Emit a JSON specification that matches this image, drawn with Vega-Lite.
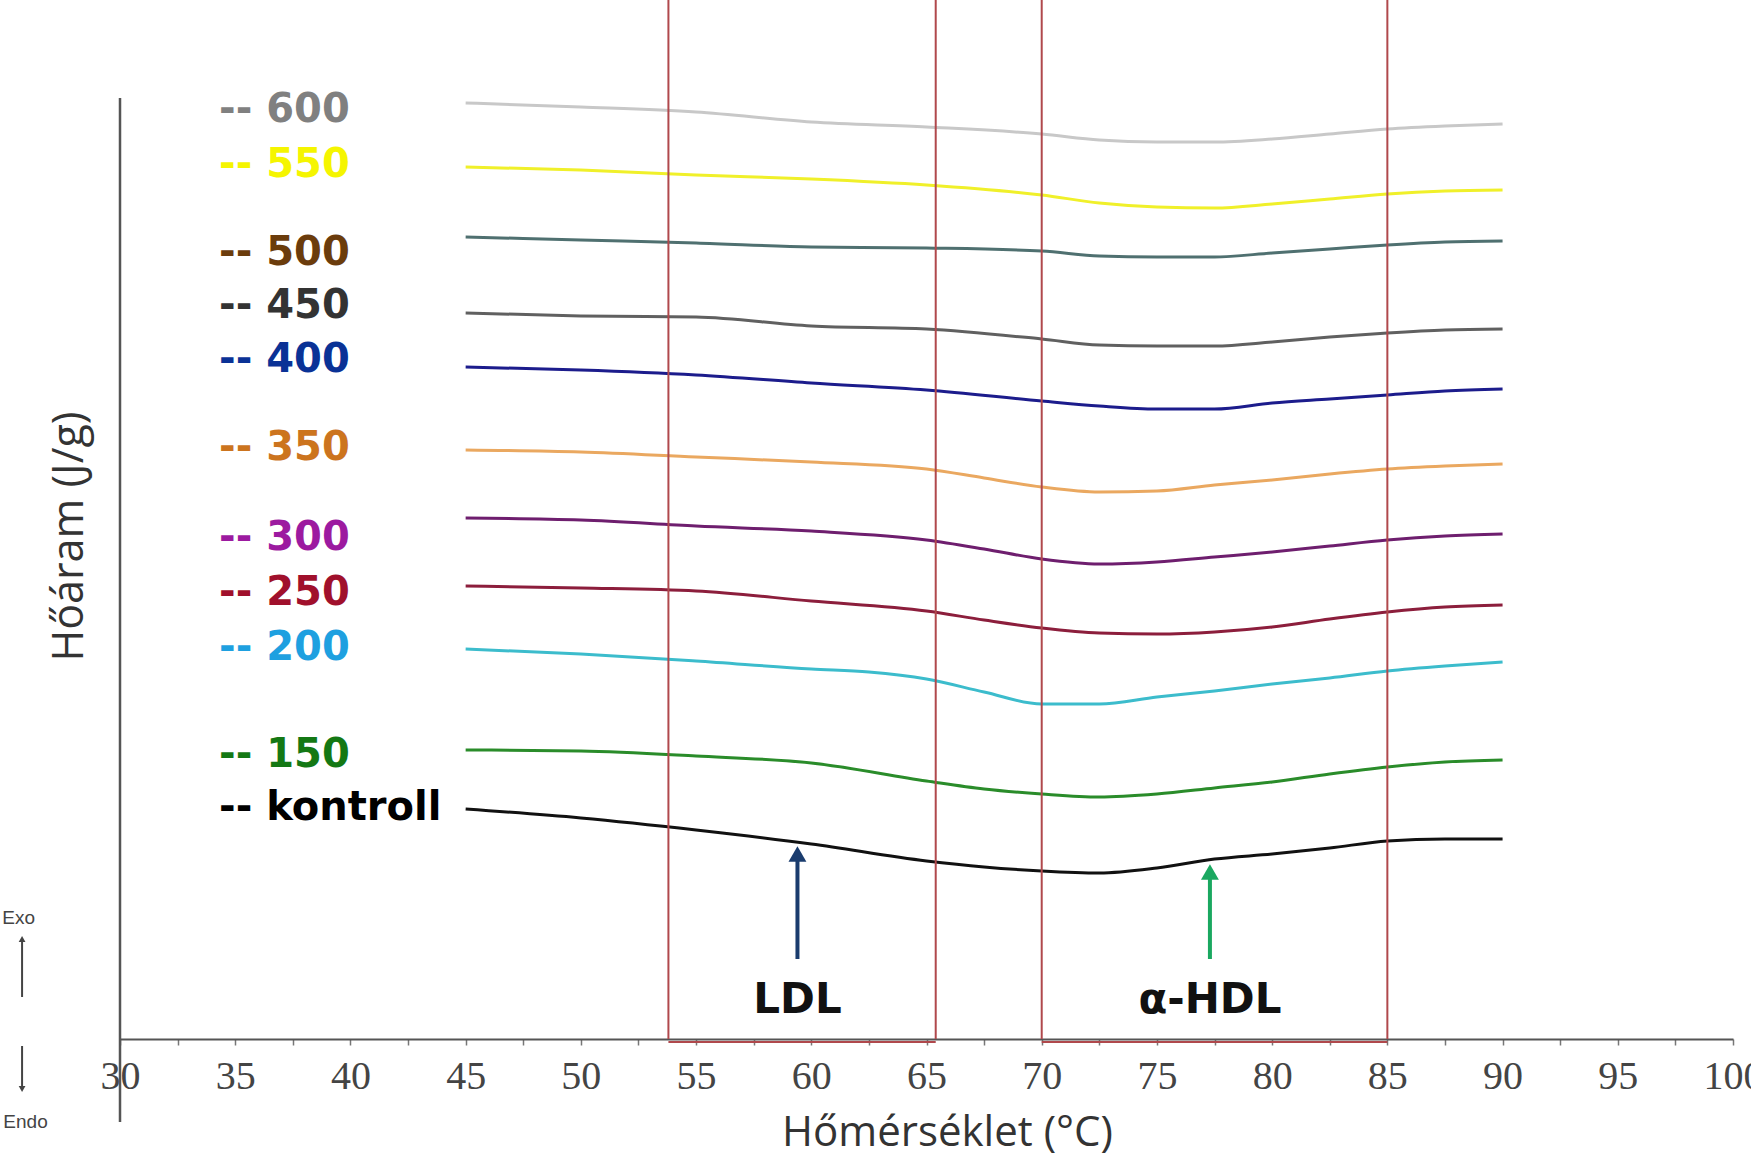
{
  "$schema": "https://vega.github.io/schema/vega-lite/v6.json",
  "width": 1613,
  "height": 1039,
  "autosize": {"type": "none"},
  "padding": {"left": 120, "top": 0, "right": 18, "bottom": 119},
  "background": "white",
  "config": {"view": {"stroke": null}},
  "data": {"values": [{"anchor": 1}]},
  "datasets": {
    "curves": [
      {"series":"600","temp":45,"heat":9.36},{"series":"600","temp":50,"heat":9.32},{"series":"600","temp":55,"heat":9.27},{"series":"600","temp":60,"heat":9.17},{"series":"600","temp":65,"heat":9.12},{"series":"600","temp":70,"heat":9.05},{"series":"600","temp":72.5,"heat":8.99},{"series":"600","temp":75,"heat":8.97},{"series":"600","temp":77.5,"heat":8.97},{"series":"600","temp":80,"heat":9.0},{"series":"600","temp":82.5,"heat":9.05},{"series":"600","temp":85,"heat":9.1},{"series":"600","temp":87.5,"heat":9.13},{"series":"600","temp":90,"heat":9.15},
      {"series":"550","temp":45,"heat":8.72},{"series":"550","temp":50,"heat":8.69},{"series":"550","temp":55,"heat":8.64},{"series":"550","temp":60,"heat":8.6},{"series":"550","temp":65,"heat":8.54},{"series":"550","temp":70,"heat":8.44},{"series":"550","temp":72.5,"heat":8.36},{"series":"550","temp":75,"heat":8.32},{"series":"550","temp":77.5,"heat":8.31},{"series":"550","temp":80,"heat":8.35},{"series":"550","temp":82.5,"heat":8.4},{"series":"550","temp":85,"heat":8.45},{"series":"550","temp":87.5,"heat":8.48},{"series":"550","temp":90,"heat":8.49},
      {"series":"500","temp":45,"heat":8.02},{"series":"500","temp":50,"heat":7.99},{"series":"500","temp":55,"heat":7.96},{"series":"500","temp":60,"heat":7.92},{"series":"500","temp":65,"heat":7.91},{"series":"500","temp":70,"heat":7.88},{"series":"500","temp":72.5,"heat":7.83},{"series":"500","temp":75,"heat":7.82},{"series":"500","temp":77.5,"heat":7.82},{"series":"500","temp":80,"heat":7.86},{"series":"500","temp":82.5,"heat":7.9},{"series":"500","temp":85,"heat":7.94},{"series":"500","temp":87.5,"heat":7.97},{"series":"500","temp":90,"heat":7.98},
      {"series":"450","temp":45,"heat":7.26},{"series":"450","temp":50,"heat":7.23},{"series":"450","temp":55,"heat":7.22},{"series":"450","temp":60,"heat":7.13},{"series":"450","temp":65,"heat":7.1},{"series":"450","temp":70,"heat":7.0},{"series":"450","temp":72.5,"heat":6.94},{"series":"450","temp":75,"heat":6.93},{"series":"450","temp":77.5,"heat":6.93},{"series":"450","temp":80,"heat":6.97},{"series":"450","temp":82.5,"heat":7.02},{"series":"450","temp":85,"heat":7.06},{"series":"450","temp":87.5,"heat":7.09},{"series":"450","temp":90,"heat":7.1},
      {"series":"400","temp":45,"heat":6.72},{"series":"400","temp":50,"heat":6.69},{"series":"400","temp":55,"heat":6.64},{"series":"400","temp":60,"heat":6.56},{"series":"400","temp":65,"heat":6.49},{"series":"400","temp":70,"heat":6.38},{"series":"400","temp":72.5,"heat":6.33},{"series":"400","temp":75,"heat":6.3},{"series":"400","temp":77.5,"heat":6.3},{"series":"400","temp":80,"heat":6.36},{"series":"400","temp":82.5,"heat":6.4},{"series":"400","temp":85,"heat":6.44},{"series":"400","temp":87.5,"heat":6.48},{"series":"400","temp":90,"heat":6.5},
      {"series":"350","temp":45,"heat":5.89},{"series":"350","temp":50,"heat":5.87},{"series":"350","temp":55,"heat":5.82},{"series":"350","temp":60,"heat":5.77},{"series":"350","temp":65,"heat":5.7},{"series":"350","temp":67.5,"heat":5.61},{"series":"350","temp":70,"heat":5.52},{"series":"350","temp":72.5,"heat":5.47},{"series":"350","temp":75,"heat":5.48},{"series":"350","temp":77.5,"heat":5.54},{"series":"350","temp":80,"heat":5.59},{"series":"350","temp":82.5,"heat":5.65},{"series":"350","temp":85,"heat":5.7},{"series":"350","temp":87.5,"heat":5.73},{"series":"350","temp":90,"heat":5.75},
      {"series":"300","temp":45,"heat":5.21},{"series":"300","temp":50,"heat":5.19},{"series":"300","temp":55,"heat":5.13},{"series":"300","temp":60,"heat":5.08},{"series":"300","temp":65,"heat":4.99},{"series":"300","temp":67.5,"heat":4.9},{"series":"300","temp":70,"heat":4.8},{"series":"300","temp":72.5,"heat":4.75},{"series":"300","temp":75,"heat":4.77},{"series":"300","temp":77.5,"heat":4.82},{"series":"300","temp":80,"heat":4.87},{"series":"300","temp":82.5,"heat":4.93},{"series":"300","temp":85,"heat":4.99},{"series":"300","temp":87.5,"heat":5.03},{"series":"300","temp":90,"heat":5.05},
      {"series":"250","temp":45,"heat":4.53},{"series":"250","temp":50,"heat":4.51},{"series":"250","temp":55,"heat":4.48},{"series":"250","temp":60,"heat":4.38},{"series":"250","temp":65,"heat":4.28},{"series":"250","temp":67.5,"heat":4.19},{"series":"250","temp":70,"heat":4.11},{"series":"250","temp":72.5,"heat":4.06},{"series":"250","temp":75,"heat":4.05},{"series":"250","temp":77.5,"heat":4.07},{"series":"250","temp":80,"heat":4.12},{"series":"250","temp":82.5,"heat":4.2},{"series":"250","temp":85,"heat":4.27},{"series":"250","temp":87.5,"heat":4.32},{"series":"250","temp":90,"heat":4.34},
      {"series":"200","temp":45,"heat":3.9},{"series":"200","temp":50,"heat":3.85},{"series":"200","temp":55,"heat":3.78},{"series":"200","temp":60,"heat":3.7},{"series":"200","temp":62.5,"heat":3.67},{"series":"200","temp":65,"heat":3.6},{"series":"200","temp":67.5,"heat":3.47},{"series":"200","temp":70,"heat":3.35},{"series":"200","temp":72.5,"heat":3.35},{"series":"200","temp":75,"heat":3.42},{"series":"200","temp":77.5,"heat":3.48},{"series":"200","temp":80,"heat":3.55},{"series":"200","temp":82.5,"heat":3.61},{"series":"200","temp":85,"heat":3.68},{"series":"200","temp":87.5,"heat":3.73},{"series":"200","temp":90,"heat":3.77},
      {"series":"150","temp":45,"heat":2.89},{"series":"150","temp":50,"heat":2.88},{"series":"150","temp":55,"heat":2.83},{"series":"150","temp":60,"heat":2.76},{"series":"150","temp":65,"heat":2.58},{"series":"150","temp":67.5,"heat":2.5},{"series":"150","temp":70,"heat":2.45},{"series":"150","temp":72.5,"heat":2.42},{"series":"150","temp":75,"heat":2.45},{"series":"150","temp":77.5,"heat":2.51},{"series":"150","temp":80,"heat":2.57},{"series":"150","temp":82.5,"heat":2.65},{"series":"150","temp":85,"heat":2.72},{"series":"150","temp":87.5,"heat":2.77},{"series":"150","temp":90,"heat":2.79},
      {"series":"kontroll","temp":45,"heat":2.3},{"series":"kontroll","temp":50,"heat":2.21},{"series":"kontroll","temp":55,"heat":2.09},{"series":"kontroll","temp":60,"heat":1.95},{"series":"kontroll","temp":65,"heat":1.78},{"series":"kontroll","temp":67.5,"heat":1.72},{"series":"kontroll","temp":70,"heat":1.68},{"series":"kontroll","temp":72.5,"heat":1.66},{"series":"kontroll","temp":75,"heat":1.71},{"series":"kontroll","temp":77.5,"heat":1.8},{"series":"kontroll","temp":80,"heat":1.85},{"series":"kontroll","temp":82.5,"heat":1.91},{"series":"kontroll","temp":85,"heat":1.98},{"series":"kontroll","temp":87.5,"heat":2.0},{"series":"kontroll","temp":90,"heat":2.0}
    ],
    "labels": [
      {"series":"600","label":"-- 600","label_y":9.17},
      {"series":"550","label":"-- 550","label_y":8.62},
      {"series":"500","label":"-- 500","label_y":7.74},
      {"series":"450","label":"-- 450","label_y":7.21},
      {"series":"400","label":"-- 400","label_y":6.67},
      {"series":"350","label":"-- 350","label_y":5.79},
      {"series":"300","label":"-- 300","label_y":4.89},
      {"series":"250","label":"-- 250","label_y":4.34},
      {"series":"200","label":"-- 200","label_y":3.79},
      {"series":"150","label":"-- 150","label_y":2.72},
      {"series":"kontroll","label":"-- kontroll","label_y":2.19}
    ],
    "regions": [
      {"name":"LDL","start":53.8,"end":65.4,"peak":59.4,"tip":1.85},
      {"name":"α-HDL","start":70,"end":85,"peak":77.3,"tip":1.67}
    ]
  },
  "resolve": {"scale": {"color": "independent"}},
  "layer": [
    {
      "data": {"name": "curves"},
      "mark": {"type": "line", "strokeWidth": 3, "interpolate": "monotone"},
      "encoding": {
        "x": {
          "field": "temp", "type": "quantitative",
          "scale": {"domain": [30, 100], "nice": false, "zero": false},
          "axis": {
            "values": [30,32.5,35,37.5,40,42.5,45,47.5,50,52.5,55,57.5,60,62.5,65,67.5,70,72.5,75,77.5,80,82.5,85,87.5,90,92.5,95,97.5,100],
            "labelExpr": "datum.value % 5 === 0 ? datum.label : ''",
            "format": "d",
            "grid": false,
            "domainColor": "#555555", "domainWidth": 2,
            "tickColor": "#777777", "tickSize": 6, "tickWidth": 1.5,
            "labelFont": "Liberation Serif", "labelFontSize": 40, "labelColor": "#444444",
            "labelPadding": 43, "labelBaseline": "alphabetic",
            "labelOverlap": false, "labelBound": false, "labelFlush": false,
            "title": "Hőmérséklet (°C)", "titleFont": "Open Sans", "titleFontSize": 42,
            "titleFontWeight": "normal", "titleColor": "#333333",
            "titleX": 827, "titleY": 106, "titleBaseline": "alphabetic", "titleAlign": "center"
          }
        },
        "y": {
          "field": "heat", "type": "quantitative",
          "scale": {"domain": [0, 10.39], "nice": false, "zero": false},
          "axis": {
            "domain": false, "ticks": false, "labels": false, "grid": false,
            "title": "Hőáram (J/g)", "titleFont": "Open Sans", "titleFontSize": 43,
            "titleFontWeight": "normal", "titleColor": "#333333",
            "titleX": -38, "titleY": 536, "titleAngle": -90,
            "titleBaseline": "alphabetic", "titleAlign": "center"
          }
        },
        "color": {
          "field": "series", "type": "nominal", "legend": null,
          "scale": {
            "domain": ["600","550","500","450","400","350","300","250","200","150","kontroll"],
            "range": ["#c8c8c8","#f0f02a","#4f7070","#606060","#1c1c8c","#eaa860","#6e1e6e","#8c1e3c","#3cbccc","#2a8c2a","#111111"]
          }
        }
      }
    },
    {
      "data": {"name": "regions"},
      "mark": {"type": "rule", "color": "#b0484c", "strokeWidth": 2},
      "encoding": {
        "x": {"field": "start", "type": "quantitative", "title": "Hőmérséklet (°C)"}
      }
    },
    {
      "data": {"name": "regions"},
      "mark": {"type": "rule", "color": "#b0484c", "strokeWidth": 2},
      "encoding": {
        "x": {"field": "end", "type": "quantitative", "title": "Hőmérséklet (°C)"}
      }
    },
    {
      "data": {"name": "regions"},
      "mark": {"type": "rule", "color": "#b0484c", "strokeWidth": 2},
      "encoding": {
        "x": {"field": "start", "type": "quantitative", "title": "Hőmérséklet (°C)"},
        "x2": {"field": "end"},
        "y": {"datum": -0.03, "type": "quantitative"}
      }
    },
    {
      "mark": {"type": "rule", "color": "#555555", "strokeWidth": 2.5},
      "encoding": {
        "x": {"datum": 30, "type": "quantitative"},
        "y": {"datum": 9.41, "type": "quantitative"},
        "y2": {"datum": -0.83}
      }
    },
    {
      "data": {"name": "labels"},
      "mark": {"type": "text", "font": "DejaVu Sans", "fontWeight": "bold", "fontSize": 40, "align": "left", "baseline": "alphabetic"},
      "encoding": {
        "x": {"datum": 34.3, "type": "quantitative"},
        "y": {"field": "label_y", "type": "quantitative", "title": "Hőáram (J/g)"},
        "text": {"field": "label", "type": "nominal"},
        "color": {
          "field": "series", "type": "nominal", "legend": null,
          "scale": {
            "domain": ["600","550","500","450","400","350","300","250","200","150","kontroll"],
            "range": ["#808080","#f5f500","#6b3c0c","#333333","#0a3296","#cc741e","#9c1aa0","#a0102c","#1ea0e0","#147814","#000000"]
          }
        }
      }
    },
    {
      "data": {"name": "regions"},
      "mark": {"type": "rule", "strokeWidth": 4},
      "encoding": {
        "x": {"field": "peak", "type": "quantitative", "title": "Hőmérséklet (°C)"},
        "y": {"field": "tip", "type": "quantitative", "title": "Hőáram (J/g)"},
        "y2": {"datum": 0.8},
        "color": {"field": "name", "type": "nominal", "legend": null,
          "scale": {"domain": ["LDL","α-HDL"], "range": ["#1a3c6e","#1aa860"]}}
      }
    },
    {
      "data": {"name": "regions"},
      "mark": {"type": "point", "shape": "triangle-up", "filled": true, "opacity": 1, "size": 320},
      "encoding": {
        "x": {"field": "peak", "type": "quantitative", "title": "Hőmérséklet (°C)"},
        "y": {"field": "tip", "type": "quantitative", "title": "Hőáram (J/g)"},
        "color": {"field": "name", "type": "nominal", "legend": null,
          "scale": {"domain": ["LDL","α-HDL"], "range": ["#1a3c6e","#1aa860"]}}
      }
    },
    {
      "data": {"name": "regions"},
      "mark": {"type": "text", "font": "DejaVu Sans", "fontWeight": "bold", "fontSize": 42, "align": "center", "baseline": "alphabetic", "color": "#111111"},
      "encoding": {
        "x": {"field": "peak", "type": "quantitative", "title": "Hőmérséklet (°C)"},
        "y": {"datum": 0.26, "type": "quantitative"},
        "text": {"field": "name", "type": "nominal"}
      }
    },
    {
      "mark": {"type": "rule", "color": "#444444", "strokeWidth": 2},
      "encoding": {"x": {"datum": 25.75, "type": "quantitative"}, "y": {"datum": 0.42, "type": "quantitative"}, "y2": {"datum": 0.98}}
    },
    {
      "mark": {"type": "point", "shape": "triangle-up", "filled": true, "opacity": 1, "size": 45, "color": "#444444"},
      "encoding": {"x": {"datum": 25.75, "type": "quantitative"}, "y": {"datum": 1.0, "type": "quantitative"}}
    },
    {
      "mark": {"type": "rule", "color": "#444444", "strokeWidth": 2},
      "encoding": {"x": {"datum": 25.75, "type": "quantitative"}, "y": {"datum": -0.07, "type": "quantitative"}, "y2": {"datum": -0.48}}
    },
    {
      "mark": {"type": "point", "shape": "triangle-down", "filled": true, "opacity": 1, "size": 45, "color": "#444444"},
      "encoding": {"x": {"datum": 25.75, "type": "quantitative"}, "y": {"datum": -0.5, "type": "quantitative"}}
    },
    {
      "mark": {"type": "text", "font": "Liberation Sans", "fontSize": 19, "align": "center", "baseline": "alphabetic", "color": "#444444", "text": "Exo"},
      "encoding": {"x": {"datum": 25.6, "type": "quantitative"}, "y": {"datum": 1.15, "type": "quantitative"}}
    },
    {
      "mark": {"type": "text", "font": "Liberation Sans", "fontSize": 19, "align": "center", "baseline": "alphabetic", "color": "#444444", "text": "Endo"},
      "encoding": {"x": {"datum": 25.9, "type": "quantitative"}, "y": {"datum": -0.89, "type": "quantitative"}}
    }
  ]
}
